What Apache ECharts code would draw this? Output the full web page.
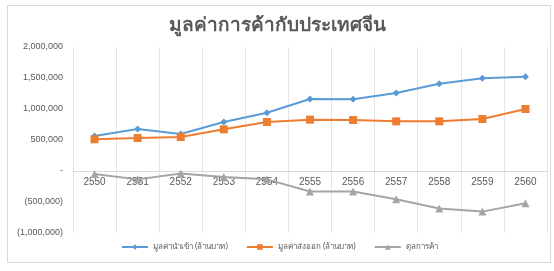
<!DOCTYPE html>
<html>
<head>
<meta charset="utf-8">
<script src="https://cdn.jsdelivr.net/npm/echarts@6/dist/echarts.min.js"></script>
<style>
  html, body { margin: 0; padding: 0; background: #fff; }
  #tradeChina { width: 554px; height: 271px; }
</style>
</head>
<body>
<div id="tradeChina"></div>
<script>
  // ปี พ.ศ.
  var years = ['2550', '2551', '2552', '2553', '2554', '2555', '2556', '2557', '2558', '2559', '2560'];
  // มูลค่านำเข้า (ล้านบาท)
  var importValues = [565000, 677000, 597000, 790000, 940000, 1161000, 1156000, 1258000, 1408000, 1495000, 1521000];
  // มูลค่าส่งออก (ล้านบาท)
  var exportValues = [511000, 532000, 548000, 672000, 790000, 828000, 823000, 801000, 801000, 839000, 1000000];
  // ดุลการค้า
  var balanceValues = [-50000, -135000, -40000, -95000, -135000, -330000, -330000, -455000, -605000, -655000, -520000];

  var seriesNames = ['มูลค่านำเข้า (ล้านบาท)', 'มูลค่าส่งออก (ล้านบาท)', 'ดุลการค้า'];

  var textFont = '"Noto Sans", "DejaVu Sans", sans-serif';

  function fmtValue(v) {
    if (v === 0) return '-';
    var s = Math.abs(v).toString().replace(/\B(?=(\d{3})+(?!\d))/g, ',');
    return v < 0 ? '(' + s + ')' : s;
  }

  var myChart = echarts.init(document.getElementById('tradeChina'));
  myChart.setOption({
    animation: false,
    title: {
      text: 'มูลค่าการค้ากับประเทศจีน',
      left: 'center',
      top: 11,
      textStyle: {
        color: '#595959',
        fontSize: 19,
        fontWeight: 'bold',
        fontFamily: textFont
      }
    },
    graphic: [{
      type: 'rect',
      shape: { x: 7.5, y: 5.5, width: 543, height: 257 },
      style: { fill: 'none', stroke: '#D9D9D9', lineWidth: 1 },
      silent: true,
      z: -1
    }],
    grid: {
      top: 47,
      left: 73,
      right: 7,
      bottom: 38
    },
    legend: {
      top: 238,
      left: 116,
      itemWidth: 26,
      itemHeight: 7,
      itemGap: 18,
      textStyle: { color: '#595959', fontSize: 8, fontFamily: textFont },
      data: seriesNames
    },
    xAxis: {
      type: 'category',
      data: years,
      axisLine: { show: false },
      axisTick: { show: false },
      // แกน x อยู่ด้านล่าง ดึงป้ายขึ้นไปไว้ที่เส้นศูนย์
      axisLabel: {
        color: '#595959',
        fontSize: 10,
        margin: -56,
        fontFamily: '"Liberation Sans", sans-serif'
      },
      splitLine: { show: true, lineStyle: { color: '#E6E6E6' } }
    },
    yAxis: {
      type: 'value',
      min: -1000000,
      max: 2000000,
      interval: 500000,
      axisLine: { show: false },
      axisTick: { show: false },
      splitLine: { show: false },
      axisLabel: {
        color: '#595959',
        fontSize: 9,
        margin: 10,
        fontFamily: '"Liberation Sans", sans-serif',
        formatter: fmtValue
      }
    },
    series: [{
      name: seriesNames[0],
      type: 'line',
      data: importValues,
      symbol: 'diamond',
      symbolSize: 7,
      itemStyle: { color: '#5B9BD5' },
      lineStyle: { color: '#5B9BD5', width: 2 },
      z: 3
    }, {
      name: seriesNames[1],
      type: 'line',
      data: exportValues,
      symbol: 'rect',
      symbolSize: 8,
      itemStyle: { color: '#ED7D31' },
      lineStyle: { color: '#ED7D31', width: 2 },
      z: 3
    }, {
      name: seriesNames[2],
      type: 'line',
      data: balanceValues,
      symbol: 'triangle',
      symbolSize: 8,
      itemStyle: { color: '#A5A5A5' },
      lineStyle: { color: '#A5A5A5', width: 2 },
      z: 3,
      // เส้นศูนย์ของแกน
      markLine: {
        silent: true,
        symbol: 'none',
        label: { show: false },
        lineStyle: { color: '#D9D9D9', type: 'solid', width: 1 },
        data: [{ yAxis: 0 }],
        z: 1
      }
    }]
  });

  window.addEventListener('resize', function () {
    myChart.resize();
  });
</script>
</body>
</html>
